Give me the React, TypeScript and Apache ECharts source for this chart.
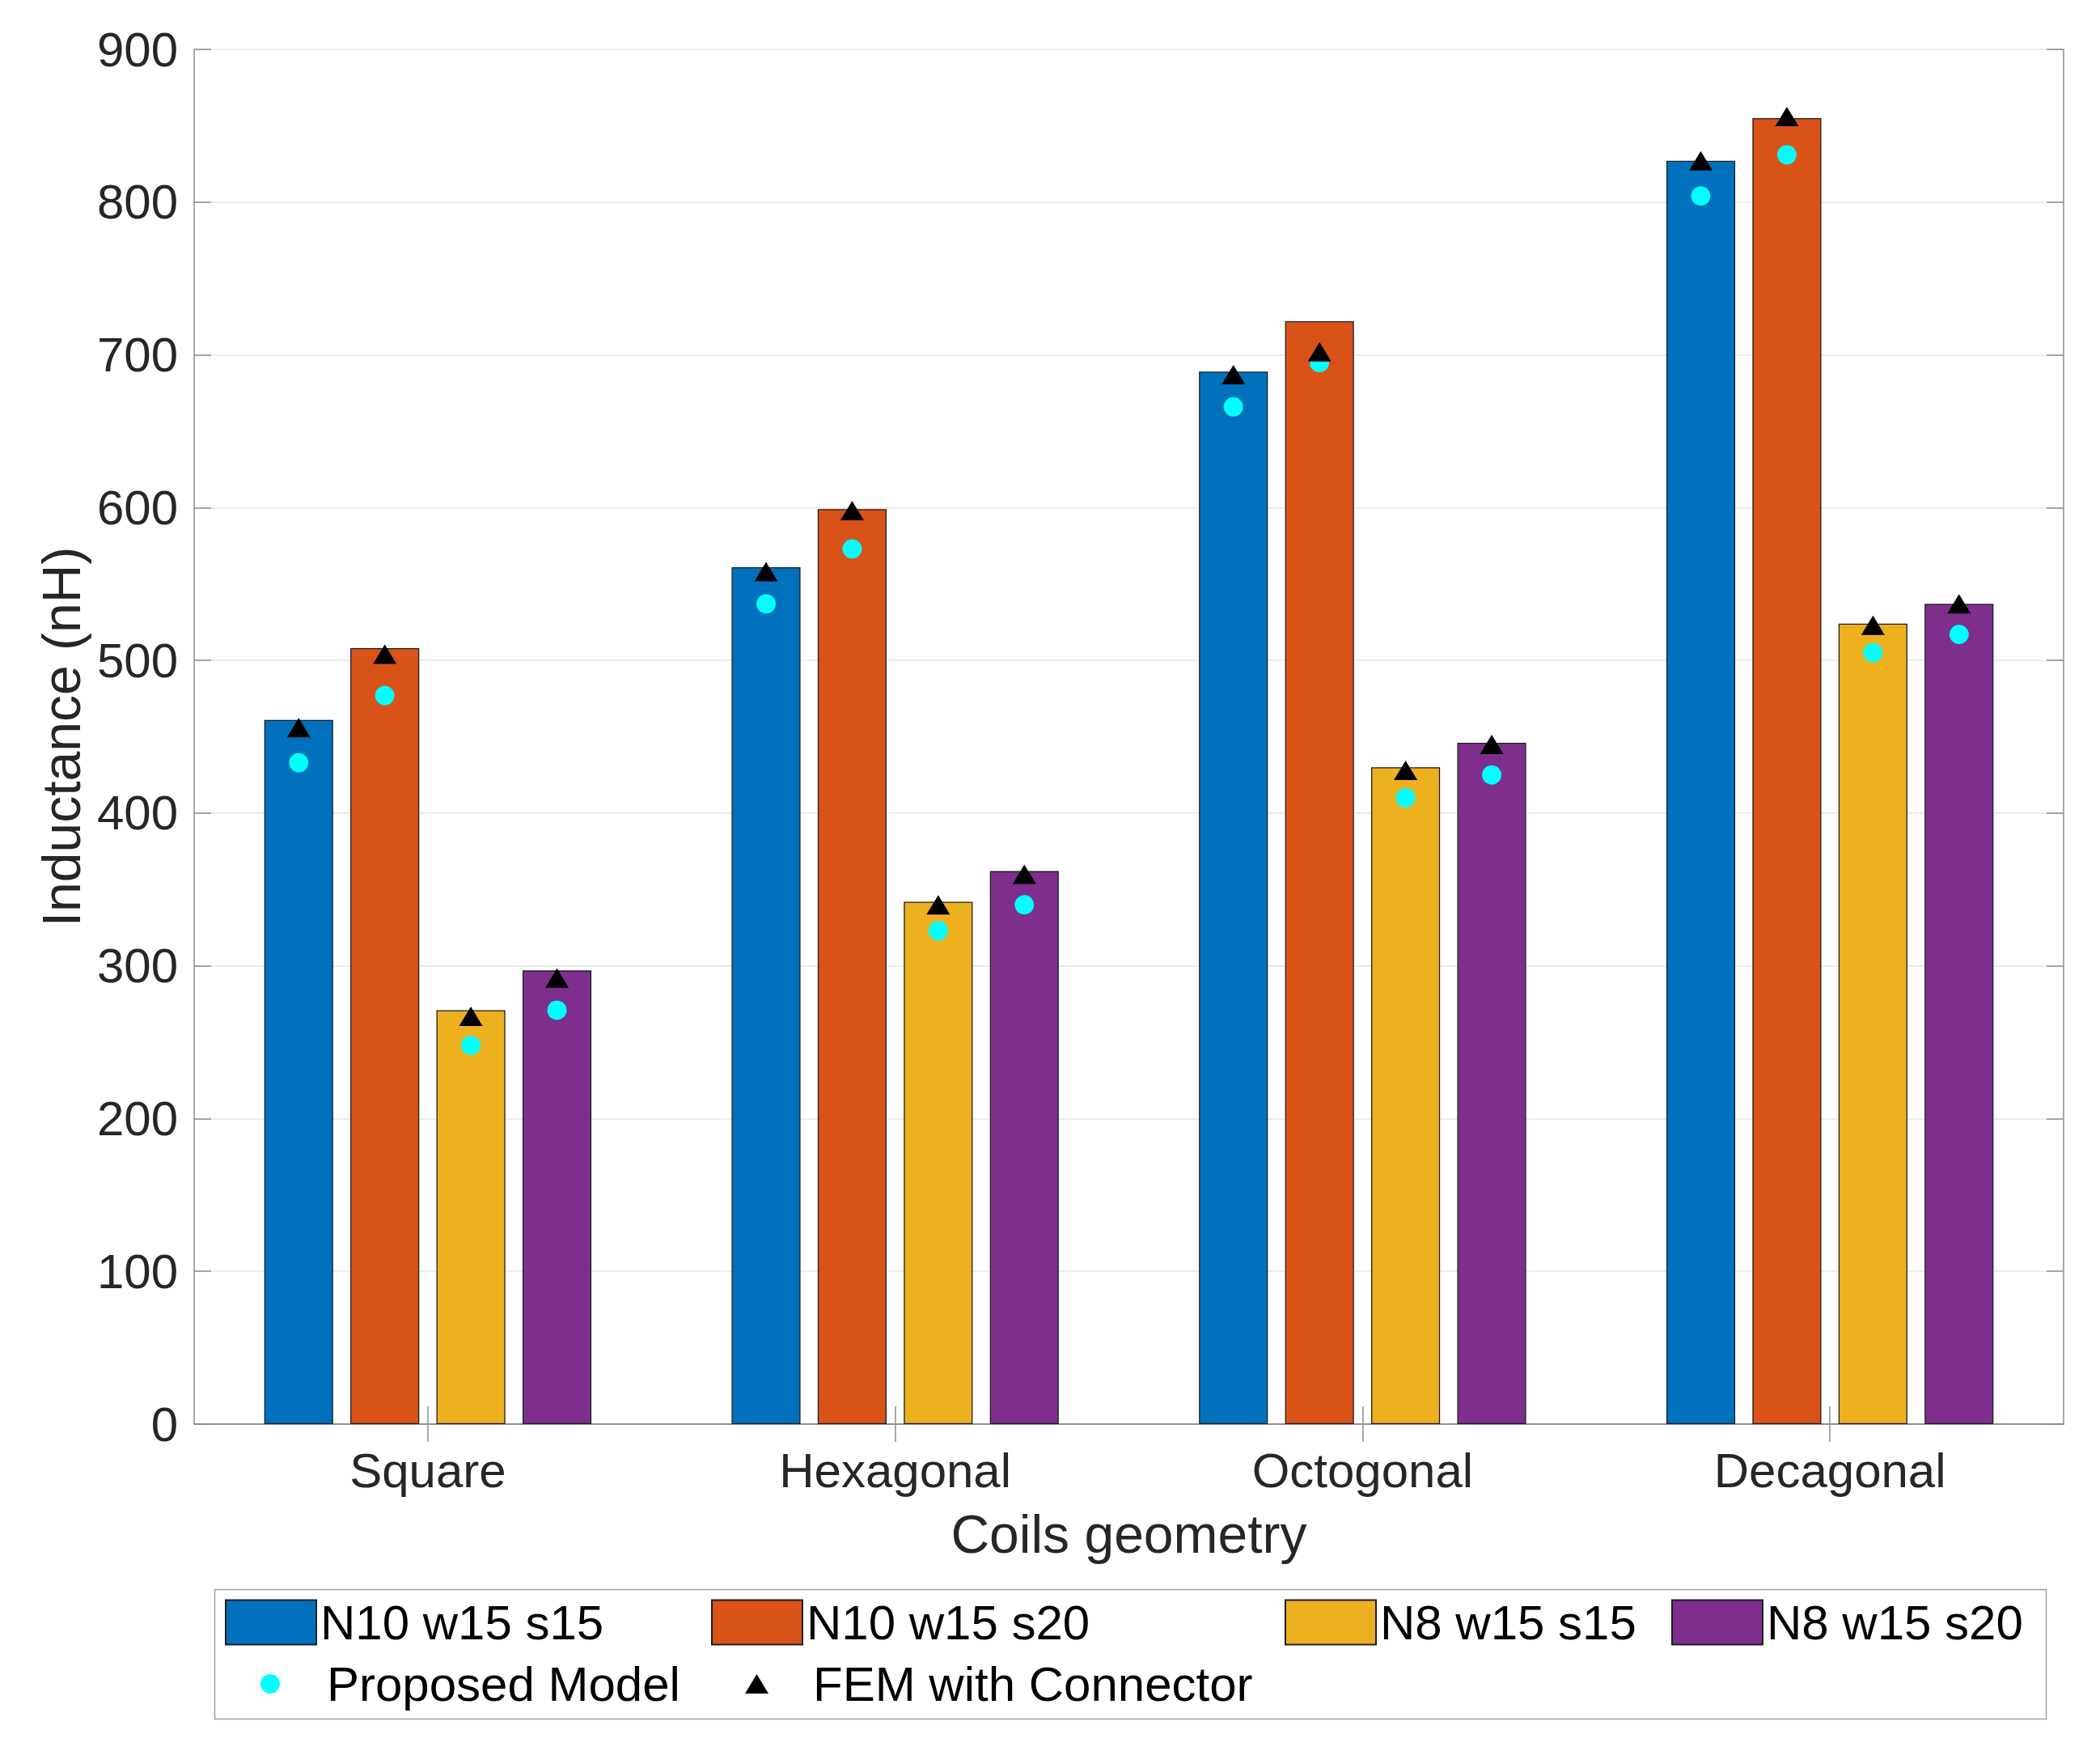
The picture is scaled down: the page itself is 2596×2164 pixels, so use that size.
import React, { useEffect, useRef } from "react";
import * as echarts from "echarts";

const categories = ["Square", "Hexagonal", "Octogonal", "Decagonal"];
const barNames = ["N10 w15 s15", "N10 w15 s20", "N8 w15 s15", "N8 w15 s20"];
const barColors = ["#0072BD", "#D95319", "#EDB120", "#7E2F8E"];

// Bar values (nH) per coil configuration across categories
const n10w15s15 = [461, 561, 689, 827];
const n10w15s20 = [508, 599, 722, 855];
const n8w15s15 = [271, 342, 430, 524];
const n8w15s20 = [297, 362, 446, 537];

// Proposed Model (cyan dots)
const proposedN10s15 = [433, 537, 666, 804];
const proposedN10s20 = [477, 573, 695, 831];
const proposedN8s15 = [248, 323, 410, 505];
const proposedN8s20 = [271, 340, 425, 517];

// FEM with Connector (black triangles)
const femN10s15 = [456, 558, 687, 827];
const femN10s20 = [504, 598, 702, 856];
const femN8s15 = [267, 340, 428, 523];
const femN8s20 = [292, 360, 445, 537];

const yTicks = { min: 0, max: 900, interval: 100 };

const FONT = "'Liberation Sans', Arial, Helvetica, sans-serif";

export default function App() {
  const ref = useRef<HTMLDivElement>(null);

  useEffect(() => {
    if (!ref.current) return;
    const chart = echarts.init(ref.current, undefined, { renderer: "svg" });

    const barSeriesData = [n10w15s15, n10w15s20, n8w15s15, n8w15s20];
    const proposedData = [proposedN10s15, proposedN10s20, proposedN8s15, proposedN8s20];
    const femData = [femN10s15, femN10s20, femN8s15, femN8s20];

    // bar layout parameters -> offsets of bar centres inside a category band
    const catGap = 0.3;
    const barGapFrac = 0.25;
    const nBars = barSeriesData.length;
    const barW = (1 - catGap) / (nBars + (nBars - 1) * barGapFrac);
    const offsets = barSeriesData.map(
      (_, j) => -(1 - catGap) / 2 + j * barW * (1 + barGapFrac) + barW / 2
    );

    const toPoints = (arrs: number[][]) => {
      const pts: number[][] = [];
      categories.forEach((_, i) => {
        arrs.forEach((arr, j) => {
          pts.push([i + offsets[j], arr[i]]);
        });
      });
      return pts;
    };

    const axisGray = "#8c8c8c";
    const textGray = "#262626";

    const legendBase = {
      orient: "horizontal",
      padding: 0,
      itemGap: 0,
      selectedMode: false,
      textStyle: { fontSize: 60, color: "#000", fontFamily: FONT },
    };

    const option: any = {
      animation: false,
      backgroundColor: "#fff",
      textStyle: { fontFamily: FONT },
      grid: { left: 240, right: 45, top: 61, bottom: 404, containLabel: false },
      xAxis: [
        {
          type: "category",
          data: categories,
          position: "bottom",
          boundaryGap: true,
          name: "Coils geometry",
          nameLocation: "middle",
          nameGap: 103,
          nameTextStyle: { fontSize: 66, color: textGray, fontFamily: FONT },
          axisLine: { show: true, lineStyle: { color: axisGray, width: 1.5 } },
          axisTick: { show: true, inside: true, length: 22, alignWithLabel: true, lineStyle: { color: axisGray, width: 1.5 } },
          axisLabel: { fontSize: 60, color: textGray, margin: 27, fontFamily: FONT },
          splitLine: { show: false },
        },
        {
          type: "category",
          data: categories,
          position: "top",
          boundaryGap: true,
          axisLine: { show: true, lineStyle: { color: axisGray, width: 1.5 } },
          axisTick: { show: true, inside: true, length: 22, alignWithLabel: true, lineStyle: { color: axisGray, width: 1.5 } },
          axisLabel: { show: false },
          splitLine: { show: false },
        },
        {
          type: "value",
          min: -0.5,
          max: 3.5,
          show: false,
        },
      ],
      yAxis: [
        {
          type: "value",
          position: "left",
          min: yTicks.min,
          max: yTicks.max,
          interval: yTicks.interval,
          name: "Inductance (nH)",
          nameLocation: "middle",
          nameGap: 125,
          nameTextStyle: { fontSize: 66, color: textGray, fontFamily: FONT },
          axisLine: { show: true, onZero: false, lineStyle: { color: axisGray, width: 1.5 } },
          axisTick: { show: true, inside: true, length: 21, lineStyle: { color: axisGray, width: 1.5 } },
          axisLabel: { fontSize: 60, color: textGray, margin: 20, fontFamily: FONT },
          splitLine: { show: true, lineStyle: { color: "#e4e4e4", width: 1.5 } },
        },
        {
          type: "value",
          position: "right",
          min: yTicks.min,
          max: yTicks.max,
          interval: yTicks.interval,
          axisLine: { show: true, onZero: false, lineStyle: { color: axisGray, width: 1.5 } },
          axisTick: { show: true, inside: true, length: 21, lineStyle: { color: axisGray, width: 1.5 } },
          axisLabel: { show: false },
          splitLine: { show: false },
        },
      ],
      legend: [
        { ...legendBase, left: 278, top: 1975, itemWidth: 112, itemHeight: 55, data: [{ name: barNames[0], icon: "rect" }] },
        { ...legendBase, left: 879, top: 1975, itemWidth: 112, itemHeight: 55, data: [{ name: barNames[1], icon: "rect" }] },
        { ...legendBase, left: 1588, top: 1975, itemWidth: 112, itemHeight: 55, data: [{ name: barNames[2], icon: "rect" }] },
        { ...legendBase, left: 2066, top: 1975, itemWidth: 112, itemHeight: 55, data: [{ name: barNames[3], icon: "rect" }] },
        {
          ...legendBase,
          left: 322,
          top: 2051,
          itemWidth: 24,
          itemHeight: 24,
          textStyle: { ...legendBase.textStyle, padding: [0, 0, 0, 53] },
          data: [{ name: "Proposed Model", icon: "circle" }],
        },
        {
          ...legendBase,
          left: 921,
          top: 2051,
          itemWidth: 29,
          itemHeight: 24,
          textStyle: { ...legendBase.textStyle, padding: [0, 0, 0, 50] },
          data: [{ name: "FEM with Connector", icon: "triangle" }],
        },
      ],
      graphic: [
        {
          type: "rect",
          left: 263,
          top: 1962,
          shape: { width: 2264, height: 160 },
          style: { fill: "none", stroke: "#a0a0a0", lineWidth: 1.5 },
          z: 0,
        },
      ],
      series: [
        ...barSeriesData.map((arr, j) => ({
          type: "bar",
          name: barNames[j],
          xAxisIndex: 0,
          yAxisIndex: 0,
          data: arr,
          barCategoryGap: "30%",
          barGap: "25%",
          itemStyle: { color: barColors[j], borderColor: "#1e1e1e", borderWidth: 1.3 },
          emphasis: { disabled: true },
        })),
        {
          type: "scatter",
          name: "Proposed Model",
          xAxisIndex: 2,
          yAxisIndex: 0,
          data: toPoints(proposedData),
          symbol: "circle",
          symbolSize: 24,
          itemStyle: { color: "#00FFFF", opacity: 1 },
          z: 5,
          emphasis: { disabled: true },
        },
        {
          type: "scatter",
          name: "FEM with Connector",
          xAxisIndex: 2,
          yAxisIndex: 0,
          data: toPoints(femData),
          symbol: "triangle",
          symbolSize: [29, 24],
          itemStyle: { color: "#000000", opacity: 1 },
          z: 6,
          emphasis: { disabled: true },
        },
      ],
    };

    chart.setOption(option);
    return () => chart.dispose();
  }, []);

  return (
    <div
      ref={ref}
      style={{ position: "fixed", left: 0, top: 0, width: 2596, height: 2164, background: "#fff" }}
    />
  );
}
